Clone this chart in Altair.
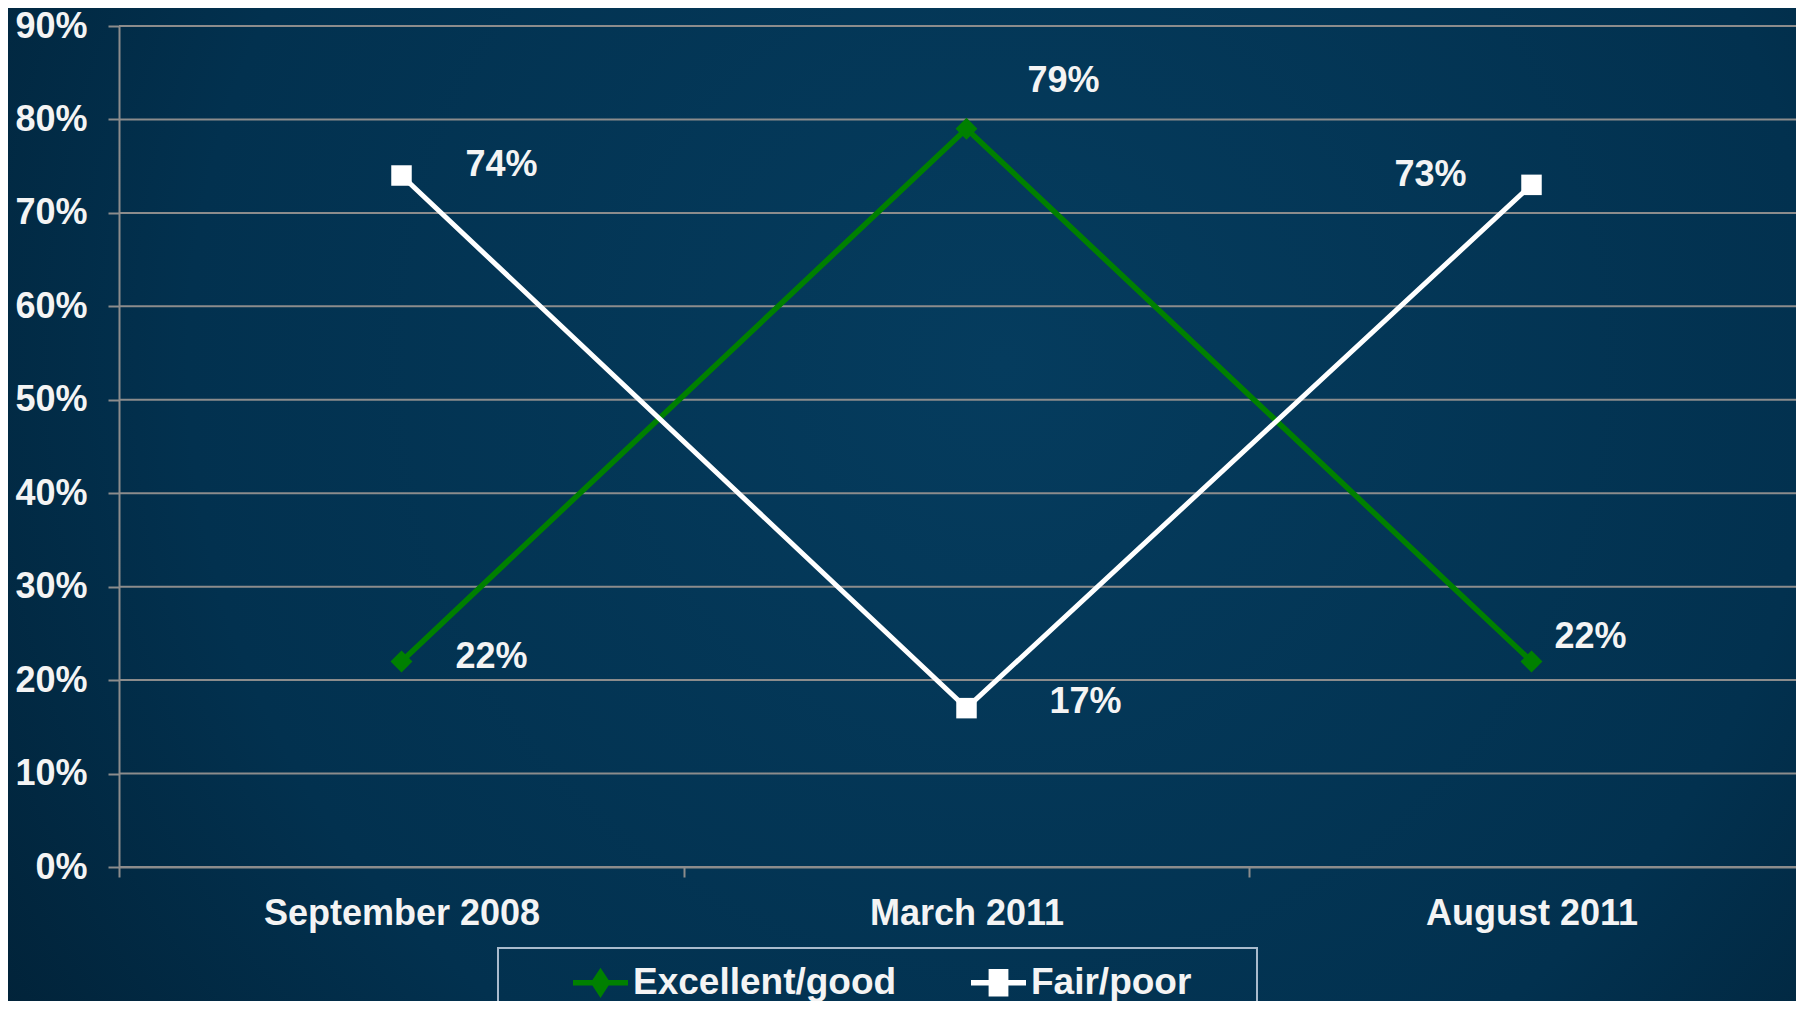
import json
import altair as alt
import pandas as pd

# ---------------- data ----------------
categories = ["September 2008", "March 2011", "August 2011"]
series_names = ["Excellent/good", "Fair/poor"]
excellent_good = [22, 79, 22]
fair_poor = [74, 17, 73]
y_tick_values = [0, 10, 20, 30, 40, 50, 60, 70, 80, 90]

rows = []
for i, cat in enumerate(categories):
    rows.append({"category": cat, "idx": i, "series": series_names[0], "value": excellent_good[i] / 100})
    rows.append({"category": cat, "idx": i, "series": series_names[1], "value": fair_poor[i] / 100})
df = pd.DataFrame(rows)
grid_df = pd.DataFrame({"value": [v / 100 for v in y_tick_values]})

# ---------------- styling ----------------
GREEN = "#008000"
WHITE = "#ffffff"
GRID = "#8c8c8c"
TEXT = "#f4f4f4"
FONT = "Liberation Sans, Arial, sans-serif"
W, H = 1677, 841

# label offsets (pixels) per (series, category index)
label_offsets = {
    ("Fair/poor", 0): (100, -11),
    ("Excellent/good", 0): (90, -4),
    ("Excellent/good", 1): (97, -48),
    ("Fair/poor", 1): (119, -6),
    ("Fair/poor", 2): (-101, -10),
    ("Excellent/good", 2): (59, -24),
}

cat_array = json.dumps(categories)
x_axis = alt.Axis(
    values=[-0.5, 0, 0.5, 1, 1.5, 2],
    labelExpr=f"datum.value % 1 === 0 ? {cat_array}[datum.value] : ''",
    tickOpacity={"condition": {"test": "datum.value % 1 !== 0", "value": 1}, "value": 0},
    tickSize=10, tickColor=GRID, tickWidth=2,
    domainColor=GRID, domainWidth=2, grid=False,
    labelFont=FONT, labelFontSize=36, labelFontWeight="bold", labelColor=TEXT,
    labelPadding=36, labelBaseline="middle", labelFlush=False, labelOverlap=False,
    labelLimit=600, title=None, zindex=1,
)
y_axis = alt.Axis(
    values=[v / 100 for v in y_tick_values], format=".0%",
    tickSize=11, tickColor=GRID, tickWidth=2,
    domainColor=GRID, domainWidth=2, grid=False,
    labelFont=FONT, labelFontSize=36, labelFontWeight="bold", labelColor=TEXT,
    labelPadding=21, labelBaseline="middle", title=None, zindex=1,
)

x_enc = alt.X("idx:Q", scale=alt.Scale(domain=[-0.5, 2.5], range=[0, 1695], zero=False, nice=False), axis=x_axis)
y_enc = alt.Y("value:Q", scale=alt.Scale(domain=[0, 0.9], zero=True, nice=False), axis=y_axis)
x_plain = alt.X("idx:Q")
y_plain = alt.Y("value:Q")

base = alt.Chart(df)

# background gradient
bg = alt.Chart(alt.Data(values=[{}])).mark_rect(
    color={
        "gradient": "radial",
        "x1": 0.55, "y1": 0.42, "r1": 0,
        "x2": 0.55, "y2": 0.42, "r2": 0.75,
        "stops": [
            {"offset": 0, "color": "#053c5e"},
            {"offset": 0.6, "color": "#02314f"},
            {"offset": 1, "color": "#011d30"},
        ],
    }
).encode(x=alt.value(-111), x2=alt.value(W + 20), y=alt.value(-18), y2=alt.value(H + 140))

# horizontal gridlines from the tick values
grid = alt.Chart(grid_df).mark_rule(color=GRID, strokeWidth=2).encode(
    y=y_plain, x=alt.value(0), x2=alt.value(W))

line_exc = base.transform_filter(alt.datum.series == series_names[0]).mark_line(
    color=GREEN, strokeWidth=5.5).encode(x=x_enc, y=y_enc, order="idx:Q")
line_fair = base.transform_filter(alt.datum.series == series_names[1]).mark_line(
    color=WHITE, strokeWidth=5).encode(x=x_plain, y=y_plain, order="idx:Q")
pts_exc = base.transform_filter(alt.datum.series == series_names[0]).mark_point(
    shape="diamond", filled=True, color=GREEN, size=480, opacity=1).encode(x=x_plain, y=y_plain)
pts_fair = base.transform_filter(alt.datum.series == series_names[1]).mark_point(
    shape="square", filled=True, color=WHITE, size=420, opacity=1).encode(x=x_plain, y=y_plain)

labels = []
for (s, i), (dx, dy) in label_offsets.items():
    labels.append(
        base.transform_filter((alt.datum.series == s) & (alt.datum.idx == i))
        .transform_calculate(label="format(datum.value, '.0%')")
        .mark_text(dx=dx, dy=dy, font=FONT, fontSize=36, fontWeight="bold",
                   color=TEXT, align="center", baseline="middle")
        .encode(x=x_plain, y=y_plain, text="label:N")
    )

# legend (native), built from the series names
green_path = "M-1,-0.1L1,-0.1L1,0.1L-1,0.1Z M0,-0.55L0.36,0L0,0.55L-0.36,0Z"
square_path = "M-1,-0.1L1,-0.1L1,0.1L-1,0.1Z M-0.36,-0.5L0.36,-0.5L0.36,0.5L-0.36,0.5Z"
leg = alt.Legend(
    orient="none", legendX=454, legendY=929, direction="horizontal", title=None,
    symbolSize=3025, symbolStrokeWidth=0, padding=0,
    labelFont=FONT, labelFontSize=37,
    labelFontWeight="bold", labelColor=TEXT, labelOffset=5, columnPadding=74,
    labelLimit=400,
)
legend_layer = alt.Chart(pd.DataFrame({"series": series_names})).mark_point(
    filled=True, opacity=1).encode(
    x=alt.value(-3000), y=alt.value(-3000),
    color=alt.Color("series:N", scale=alt.Scale(domain=series_names, range=[GREEN, WHITE]), legend=leg),
    shape=alt.Shape("series:N", scale=alt.Scale(domain=series_names, range=[green_path, square_path]), legend=leg),
)
frame = alt.Chart(alt.Data(values=[{}])).mark_rect(
    fill=None, fillOpacity=0, stroke="#a9bbcd", strokeWidth=2).encode(
    x=alt.value(379), x2=alt.value(1138), y=alt.value(922), y2=alt.value(1100))

chart = alt.layer(bg, grid, line_exc, line_fair, pts_exc, pts_fair, *labels, legend_layer, frame).properties(
    width=W, height=H, autosize="none",
    padding={"left": 111, "top": 18, "right": 0, "bottom": 134},
).configure_view(stroke=None).configure(background="#012a44")

chart.save("out.html", embed_options={"renderer": "svg", "actions": False})
